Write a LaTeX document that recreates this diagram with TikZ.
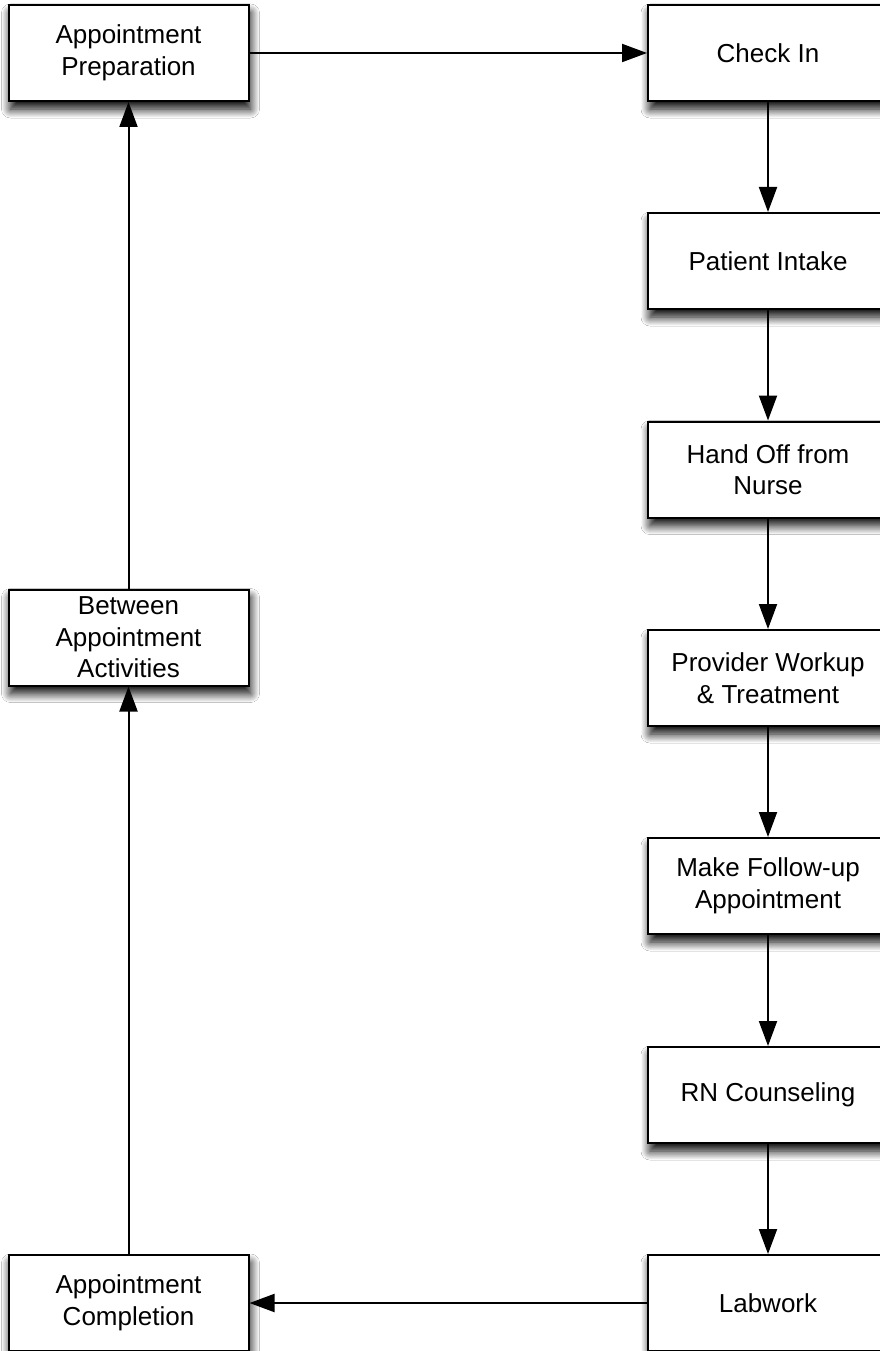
\documentclass[tikz,border=0pt]{standalone}
\usepackage{fontspec}
\setmainfont{Liberation Sans}
\usetikzlibrary{arrows.meta,shadows.blur}
\begin{document}
\begin{tikzpicture}[x=1pt,y=-1pt,
  stepbox/.style={draw=black, line width=2pt, fill=white,
    minimum width=240pt, minimum height=96pt, inner sep=0pt,
    align=center, font=\fontsize{26}{31.5}\selectfont,
    blur shadow={shadow xshift=2pt, shadow yshift=-8pt,
      shadow blur radius=9pt, shadow blur steps=16, shadow opacity=100}},
  flow/.style={draw=black, line width=2pt,
    -{Triangle[length=25pt,width=18pt]}}]
  \useasboundingbox (0,0) rectangle (880,1351);
  \fill[white] (0,0) rectangle (880,1351);
  \clip (0,0) rectangle (880,1351);

  % left column
  \node[stepbox] (prep) at (128.5,53) {Appointment\\Preparation};
  \node[stepbox] (between) at (128.5,637.5) {Between\\Appointment\\Activities};
  \node[stepbox] (compl) at (128.5,1303) {Appointment\\Completion};

  % right column
  \node[stepbox] (checkin) at (768,53) {Check In};
  \node[stepbox] (intake) at (768,261) {Patient Intake};
  \node[stepbox] (handoff) at (768,469.5) {Hand Off from\\Nurse};
  \node[stepbox] (workup) at (768,678) {Provider Workup\\\& Treatment};
  \node[stepbox] (follow) at (768,886) {Make Follow-up\\Appointment};
  \node[stepbox] (rn) at (768,1095) {RN Counseling};
  \node[stepbox] (lab) at (768,1303) {Labwork};

  % connectors
  \draw[flow] (prep) -- (checkin);
  \draw[flow] (checkin) -- (intake);
  \draw[flow] (intake) -- (handoff);
  \draw[flow] (handoff) -- (workup);
  \draw[flow] (workup) -- (follow);
  \draw[flow] (follow) -- (rn);
  \draw[flow] (rn) -- (lab);
  \draw[flow] (lab) -- (compl);
  \draw[flow] (compl) -- (between);
  \draw[flow] (between) -- (prep);
\end{tikzpicture}
\end{document}
